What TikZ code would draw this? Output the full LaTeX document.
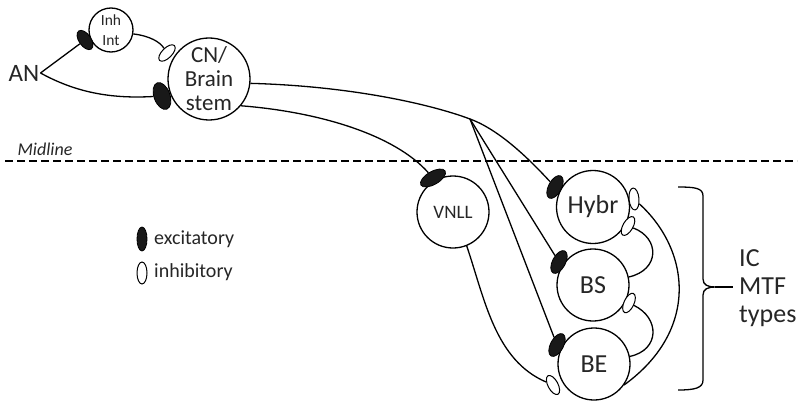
\documentclass[tikz,border=0pt]{standalone}
\usepackage{fontspec}
\setmainfont{Carlito}
\usetikzlibrary{shapes.geometric}
\pgfdeclarelayer{background}
\pgfsetlayers{background,main}
\begin{document}
\begin{tikzpicture}[x=1pt,y=-1pt,
  cell/.style={circle,draw=black,fill=white,line width=1.3pt,inner sep=0pt,minimum size=#1,text=black!85},
  exc/.style={ellipse,fill=black!90,draw=black,line width=0.8pt,inner sep=0pt,minimum width=25pt,minimum height=13pt},
  inh/.style={ellipse,fill=white,draw=black,line width=1pt,inner sep=0pt,minimum width=21pt,minimum height=10pt},
  conn/.style={line width=1.3pt,draw=black},
  lbl/.style={inner sep=0pt,text=black!85}]
\useasboundingbox (0,0) rectangle (799,401);

% cells
\node[lbl,inner sep=1pt,font=\fontsize{25}{28}\selectfont] (an) at (24,73) {AN};
\node[cell=44pt,font=\fontsize{15.5}{20}\selectfont,align=center] (inh) at (111,30) {Inh\\Int};
\node[cell=82pt,font=\fontsize{23}{24}\selectfont,align=center] (cn) at (209,79) {CN/\\Brain\\stem};
\node[cell=72pt,font=\fontsize{19}{20}\selectfont] (vnll) at (453,212) {VNLL};
\node[cell=73pt,font=\fontsize{26}{28}\selectfont] (hybr) at (593,207) {Hybr};
\node[cell=72pt,font=\fontsize{26}{28}\selectfont] (bs) at (593,285) {BS};
\node[cell=72pt,font=\fontsize{26}{28}\selectfont] (be) at (594,364) {BE};

% synapses
\node[exc,minimum width=22pt,minimum height=12pt,rotate=-55] (sInh) at (85,40) {};
\node[exc,minimum width=28pt,minimum height=16pt,rotate=-70] (sCN) at (162,96) {};
\node[inh,rotate=45] (wCN) at (167,53) {};
\node[exc,minimum width=28pt,rotate=30] (sV) at (433,178) {};
\node[exc,rotate=62] (sH) at (555,187) {};
\node[exc,rotate=62] (sBS) at (559,262) {};
\node[exc,rotate=62] (sBE) at (557,345) {};
\node[inh,minimum width=22pt,rotate=95] (wH1) at (634,199) {};
\node[inh,rotate=60] (wH2) at (628,226) {};
\node[inh,rotate=65] (wBS) at (629,303) {};
\node[inh,rotate=-62] (wBE) at (553,385) {};

% legend
\node[exc,minimum width=24pt,minimum height=10pt,rotate=90] (legE) at (142,239) {};
\node[inh,minimum width=22pt,minimum height=10pt,rotate=90] (legI) at (142,273) {};
\node[lbl,anchor=west,font=\fontsize{20}{22}\selectfont] (legEt) at (154,239) {excitatory};
\node[lbl,anchor=west,font=\fontsize{20}{22}\selectfont] (legIt) at (154,272) {inhibitory};

% midline
\node[lbl,font=\itshape\fontsize{18}{20}\selectfont] (mid) at (45,149) {Midline};
\draw[line width=1.2pt,dash pattern=on 8pt off 4pt] (5,161) -- (797,161);

% IC label and bracket
\node[lbl,anchor=west,align=left,font=\fontsize{26}{28}\selectfont] (ic) at (739,288) {IC\\MTF\\types};
\draw[line width=1.3pt] (678,187) .. controls (695,187) and (703,188) .. (703,196) -- (703,279)
  .. controls (703,285) and (708,287) .. (715,287)
  .. controls (708,287) and (703,289) .. (703,295) -- (703,380)
  .. controls (703,388) and (695,390) .. (678,390);
\draw[line width=1.3pt] (715,287) -- (733,287);

% connectors
\begin{pgfonlayer}{background}
\coordinate (b0) at (470,119);
\draw[conn] (an.east) -- (sInh);
\draw[conn] (an.east) .. controls (75,92) and (110,99) .. (sCN);
\draw[conn] (inh.-10) .. controls (150,36) and (160,42) .. (wCN);
\draw[conn] (cn.-6) .. controls (350,86) and (430,104) .. (b0) .. controls (500,130) and (530,160) .. (sH);
\draw[conn] (b0) -- (sBS);
\draw[conn] (b0) -- (sBE);
\draw[conn] (cn.-40) .. controls (320,112) and (395,135) .. (sV);
\draw[conn] (vnll.-68) .. controls (485,300) and (495,360) .. (wBE);
\draw[conn] (wH1) .. controls (690,250) and (700,330) .. (be.-35);
\draw[conn] (wH2) .. controls (660,238) and (660,270) .. (bs);
\draw[conn] (wBS) .. controls (660,318) and (660,350) .. (be);
\end{pgfonlayer}
\end{tikzpicture}
\end{document}
